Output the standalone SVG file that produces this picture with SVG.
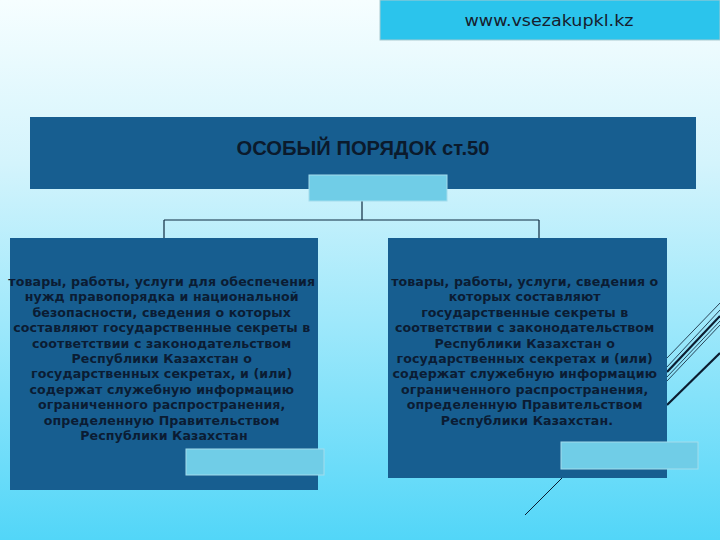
<svg xmlns="http://www.w3.org/2000/svg" width="720" height="540" viewBox="0 0 720 540">
<defs>
<linearGradient id="bg" x1="0" y1="0" x2="0" y2="1">
<stop offset="0" stop-color="#f6feff"/>
<stop offset="0.3" stop-color="#d4f4fc"/>
<stop offset="0.6" stop-color="#9ee8fb"/>
<stop offset="1" stop-color="#52d6f8"/>
</linearGradient>
<style>
.box{fill:#175e90}
.tab{fill:#70cde7;stroke:#a3dcec;stroke-width:1}
.conn{stroke:#0f2a40;stroke-width:1.2;fill:none}
.body{font-family:"DejaVu Sans",sans-serif;font-weight:bold;font-size:12.6px;letter-spacing:0.1px;fill:#0b1c33;text-anchor:middle}
.deco{stroke:#0b1c30;fill:none}
</style>
</defs>
<rect x="0" y="0" width="720" height="540" fill="url(#bg)"/>
<g id="banner">
<rect x="380" y="0" width="340" height="40" fill="#2bc4ec" stroke="#a9c9cf" stroke-width="1"/>
<text x="549" y="26" font-family="DejaVu Sans, sans-serif" font-size="16" fill="#16202e" text-anchor="middle" textLength="169" lengthAdjust="spacingAndGlyphs">www.vsezakupkl.kz</text>
</g>
<g id="decor">
<line class="deco" x1="667" y1="358" x2="720" y2="303" stroke-width="0.8"/>
<line class="deco" x1="667" y1="367" x2="720" y2="310" stroke-width="0.8"/>
<line class="deco" x1="667" y1="372" x2="720" y2="316" stroke-width="2.2"/>
<line class="deco" x1="667" y1="377" x2="720" y2="321" stroke-width="0.8"/>
<line class="deco" x1="667" y1="381" x2="720" y2="325" stroke-width="0.8"/>
<line class="deco" x1="667" y1="405" x2="720" y2="353" stroke-width="2.2"/>
<line class="deco" x1="525" y1="515" x2="562" y2="478" stroke-width="1"/>
</g>
<g id="connectors">
<path class="conn" d="M362,201 V220 M164,220 H539 M164,220 V238 M539,220 V238"/>
</g>
<g id="header">
<rect class="box" x="30" y="117" width="666" height="72"/>
<text x="363" y="155" font-family="Liberation Sans, Arial, sans-serif" font-weight="bold" font-size="20" fill="#0b1a2c" text-anchor="middle" textLength="253" lengthAdjust="spacingAndGlyphs">ОСОБЫЙ ПОРЯДОК ст.50</text>
<rect class="tab" x="309" y="175" width="138" height="26"/>
</g>
<g id="left">
<rect class="box" x="10" y="238" width="308" height="252"/>
<text class="body">
<tspan x="164" y="286">товары, работы, услуги для обеспечения</tspan>
<tspan x="164" y="301.4">нужд правопорядка и национальной</tspan>
<tspan x="164" y="316.8">безопасности, сведения о которых</tspan>
<tspan x="164" y="332.2">составляют государственные секреты в</tspan>
<tspan x="164" y="347.6">соответствии с законодательством</tspan>
<tspan x="164" y="363">Республики Казахстан о</tspan>
<tspan x="164" y="378.4">государственных секретах, и (или)</tspan>
<tspan x="164" y="393.8">содержат служебную информацию</tspan>
<tspan x="164" y="409.2">ограниченного распространения,</tspan>
<tspan x="164" y="424.6">определенную Правительством</tspan>
<tspan x="164" y="440">Республики Казахстан</tspan>
</text>
<rect class="tab" x="186" y="449" width="138" height="26"/>
</g>
<g id="right">
<rect class="box" x="388" y="238" width="279" height="240"/>
<text class="body">
<tspan x="527" y="286">товары, работы, услуги, сведения о</tspan>
<tspan x="527" y="301.4">которых составляют</tspan>
<tspan x="527" y="316.8">государственные секреты в</tspan>
<tspan x="527" y="332.2">соответствии с законодательством</tspan>
<tspan x="527" y="347.6">Республики Казахстан о</tspan>
<tspan x="527" y="363">государственных секретах и (или)</tspan>
<tspan x="527" y="378.4">содержат служебную информацию</tspan>
<tspan x="527" y="393.8">ограниченного распространения,</tspan>
<tspan x="527" y="409.2">определенную Правительством</tspan>
<tspan x="527" y="424.6">Республики Казахстан.</tspan>
</text>
<rect class="tab" x="561" y="442" width="137" height="27"/>
</g>
</svg>
